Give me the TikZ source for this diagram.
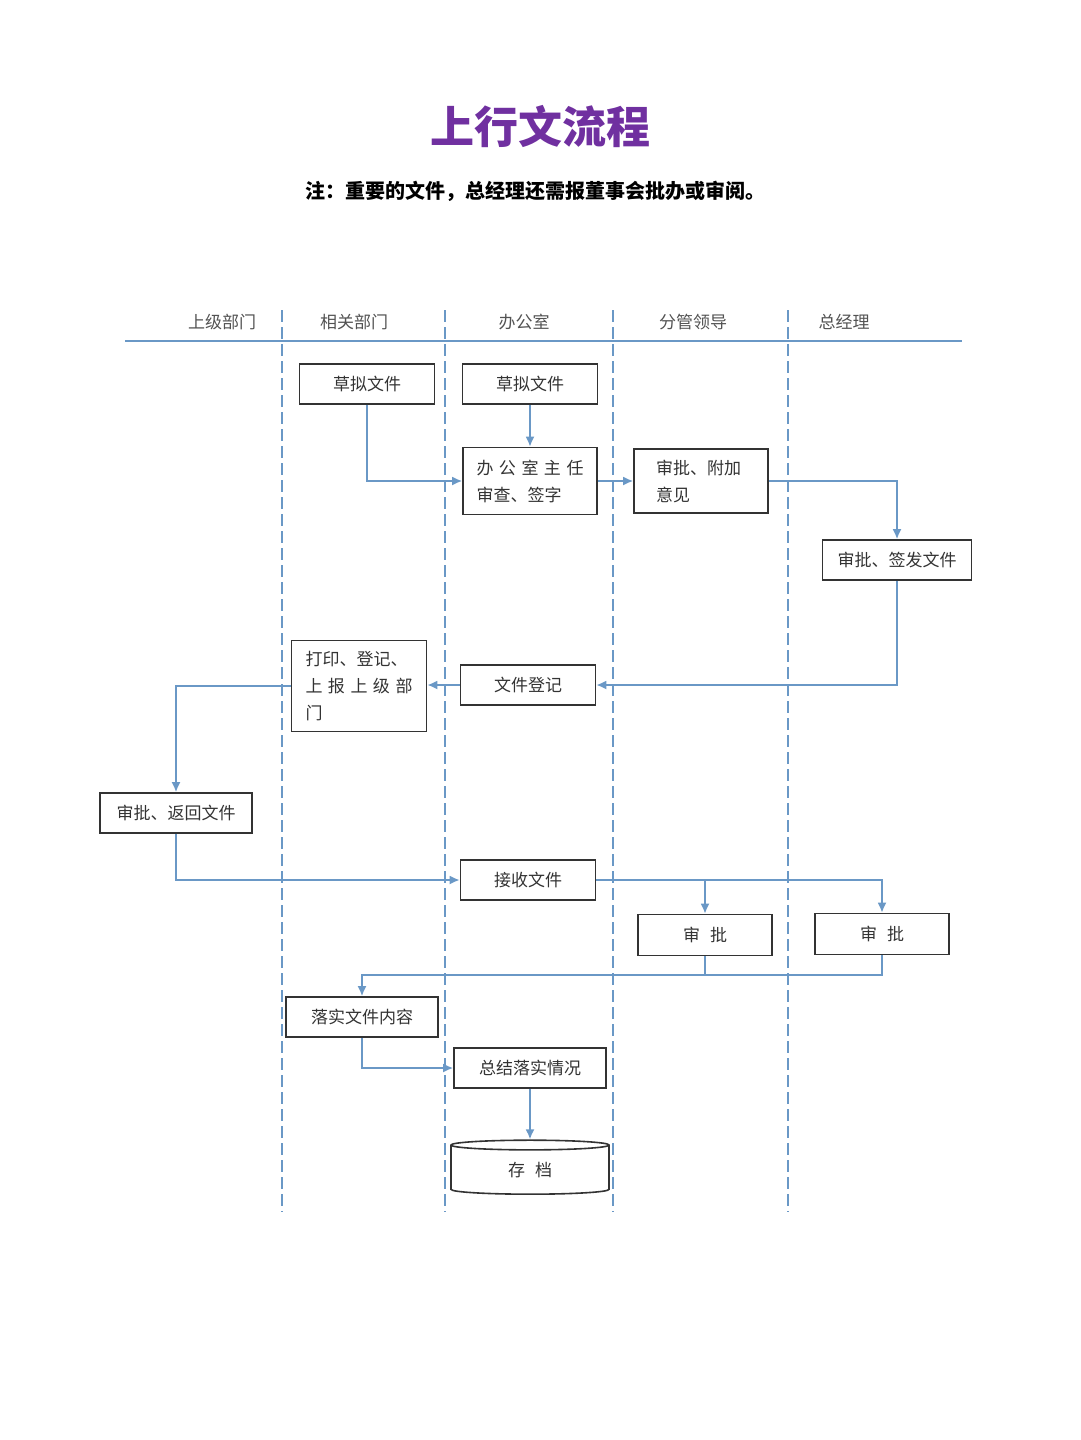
\documentclass[tikz,border=0pt]{standalone}
\usepackage{fontspec}
\setmainfont{Noto Sans CJK SC}
\usepackage{tikz}
\usetikzlibrary{shapes.geometric}
\usetikzlibrary{positioning}
\usetikzlibrary{calc}
\usetikzlibrary{arrows.meta}
\definecolor{lanecol}{HTML}{6A98C6}
\definecolor{titlecol}{HTML}{7030A0}
\definecolor{boxcol}{HTML}{333333}
\tikzset{every picture/.style={x=1pt,y=-1pt},
  box/.style={draw=boxcol,line width=1.6pt,text=boxcol,font=\fontsize{17}{27}\selectfont,inner sep=0pt},
  lane/.style={lanecol,line width=1.8pt,dash pattern=on 12pt off 5pt},
  link/.style={lanecol,line width=1.8pt},
  flow/.style={link,-{Latex[length=10pt,width=9pt]}}}

\begin{document}
\begin{tikzpicture}
\useasboundingbox (0,0) rectangle (1080,1440);
\node (title) at (540,126) [text=titlecol,font=\fontsize{44}{44}\selectfont\bfseries] {上行文流程};
\node (note) at (535,191) [font=\fontsize{20}{20}\selectfont\bfseries] {注：重要的文件，总经理还需报董事会批办或审阅。};

% lanes
\draw[link] (125,341) -- (962,341);
\foreach \x in {282, 445, 613, 788} {
\draw[lane] (\x,310) -- (\x,1212);
}
\foreach \t/\x [count=\i] in {上级部门/222, 相关部门/354, 办公室/524, 分管领导/693, 总经理/844} {
\node (h\i) at (\x,322) [text=boxcol!85,font=\fontsize{17}{17}\selectfont] {\t};
}

% boxes
\node (d1) at (367,384) [box,minimum width=135,minimum height=40] {草拟文件};
\node (d2) at (530,384) [box,minimum width=135,minimum height=40] {草拟文件};
\node (r1) at (530,481) [box,align=left,text width=107,inner xsep=13.5,minimum height=67] {办\hfill 公\hfill 室\hfill 主\hfill 任\\审查、签字};
\node (r2) at (701,481) [box,align=left,text width=90,inner xsep=22,minimum height=64] {审批、附加\\意见};
\node (g1) at (897,560) [box,minimum width=149,minimum height=40] {审批、签发文件};
\node (reg) at (528,685) [box,minimum width=135,minimum height=40] {文件登记};
\node (pr) at (359,686) [box,align=left,text width=107,inner xsep=14,minimum height=91] {打印、登记、\\上\hfill 报\hfill 上\hfill 级\hfill 部\\门};
\node (up) at (176,813) [box,minimum width=152,minimum height=40] {审批、返回文件};
\node (rc) at (528,880) [box,minimum width=135,minimum height=40] {接收文件};
\node (a1) at (705,935) [box,minimum width=134,minimum height=41] {审\hspace{10pt}批};
\node (a2) at (882,934) [box,minimum width=134,minimum height=41] {审\hspace{10pt}批};
\node (im) at (362,1017) [box,minimum width=152,minimum height=40] {落实文件内容};
\node (sm) at (530,1068) [box,minimum width=152,minimum height=40] {总结落实情况};
\node (ar) at (530,1170) [box,cylinder,shape border rotate=90,aspect=0.22,minimum width=158,minimum height=54] {存\hspace{10pt}档};

% connectors
\coordinate (bus) at (0,975);
\draw[flow] (d1.south) |- (r1.west);
\draw[flow] (d2.south) -- (r1.north);
\draw[flow] (r1.east) -- (r2.west);
\draw[flow] (r2.east) -| (g1.north);
\draw[flow] (g1.south) |- (reg.east);
\draw[flow] (reg.west) -- (reg.west -| pr.east);
\draw[flow] (pr.west) -| (up.north);
\draw[flow] (up.south) |- (rc.west);
\draw[flow] (rc.east) -| (a2.north);
\draw[flow] (a1.north |- rc.east) -- (a1.north);
\draw[link] (a1.south) -- (a1.south |- bus);
\draw[flow] (a2.south) |- (bus -| im.north) -- (im.north);
\draw[flow] (im.south) |- (sm.west);
\draw[flow] (sm.south) -- (ar.north);

\end{tikzpicture}
\end{document}
